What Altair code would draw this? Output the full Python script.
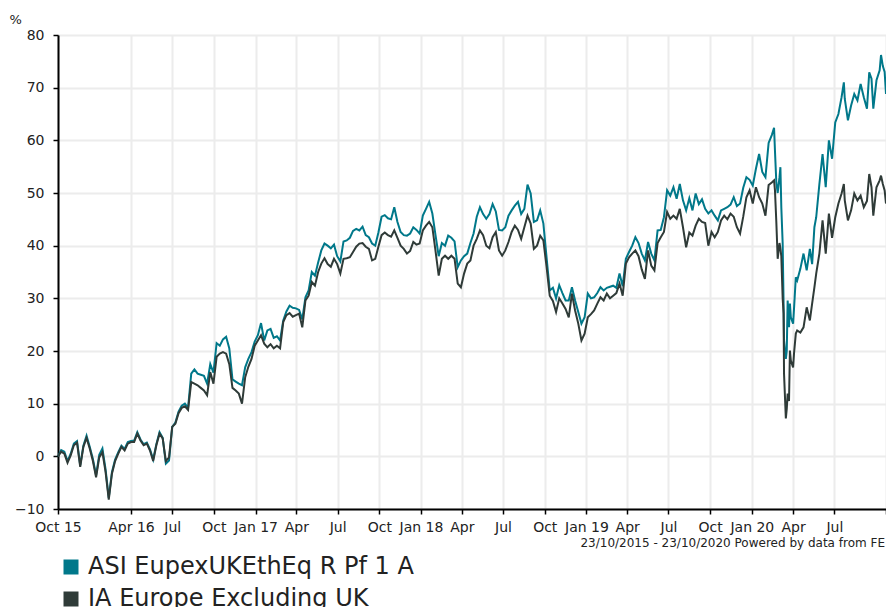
import altair as alt
import pandas as pd

SERIES = ["ASI EupexUKEthEq R Pf 1 A", "IA Europe Excluding UK"]
COLORS = ["#00788a", "#2f3b38"]
FOOTER = "23/10/2015 - 23/10/2020 Powered by data from FE"
FONT = "DejaVu Sans"

# weekly readings (Fridays) from 23/10/2015 to 14/02/2020, cumulative % growth
fund_weekly = [
    0, 1.2, 0.9, -0.9, 0.5, 2.4, 2.9, -1.7, 2.0, 3.9,
    1.8, -0.5, -3.6, 0.3, 1.5, -2.5, -7.9, -3.0, -0.6, 0.8,
    2.0, 1.4, 2.7, 2.9, 3.0, 4.6, 3.2, 2.3, 2.6, 1.3,
    -0.6, 2.3, 4.6, 3.5, -1.4, -0.8, 5.6, 6.4, 8.5, 9.6,
    10.0, 9.2, 15.7, 16.5, 15.7, 15.5, 15.3, 13.8, 17.5, 15.9,
    21.5, 21.0, 22.2, 22.7, 20.5, 14.6, 14.2, 13.8, 13.5, 16.9,
    18.5, 19.8, 21.8, 23.0, 25.3, 22.0, 23.9, 24.2, 22.5, 22.8,
    22.0, 25.8, 27.5, 28.6, 28.2, 28.1, 27.8, 26.0, 30.2, 31.5,
    35.0, 34.3, 36.8, 39.1, 40.4, 40.0, 39.5, 40.2, 38.0, 37.0,
    40.8, 41.0, 41.5, 42.8, 43.2, 42.9, 43.6, 42.0, 41.6, 40.4,
    40.0, 42.5, 45.5, 45.8, 45.2, 45.0, 47.3, 44.5, 42.6, 42.0,
    41.9, 42.3, 43.5, 43.0, 42.3, 45.7, 47.0, 48.3, 46.1, 42.0,
    38.0, 40.5, 40.0, 41.9, 41.5, 40.8, 35.9, 37.2, 38.0, 38.5,
    40.5, 42.3, 45.5, 47.3, 46.0, 45.1, 46.0, 47.9, 46.5, 43.0,
    42.9, 43.5, 45.7, 46.7, 47.6, 48.3, 46.0, 47.0, 51.6, 49.9,
    44.5, 44.8, 46.7, 44.2, 37.8, 31.5, 32.0, 30.0, 32.5, 31.0,
    29.6, 29.6, 32.1, 29.6, 27.4, 25.2, 26.4, 30.9, 30.0, 30.2,
    31.0, 32.1, 31.5, 32.0, 32.2, 32.4, 32.0, 34.7, 32.3, 37.5,
    38.8, 40.0, 41.6, 40.5, 38.5, 37.2, 40.7, 38.5, 37.2, 42.9,
    43.0, 45.4, 50.5, 49.5, 51.1, 48.9, 51.7, 48.6, 46.7, 49.0,
    46.7, 49.9, 47.9, 48.8, 47.0, 46.1, 46.7, 45.7, 44.8, 46.7,
    47.0, 47.3, 47.8, 49.2, 47.5, 48.0, 51.0, 53.0, 52.5, 51.4,
    54.6, 57.4, 54.0, 53.0, 59.5, 61.0,
]
sector_weekly = [
    0, 0.9, 0.5, -1.2, 0.2, 2.1, 2.6, -2.0, 1.8, 3.5,
    1.5, -0.9, -4.0, -0.2, 0.8, -3.0, -8.2, -3.3, -0.9, 0.5,
    1.8, 1.1, 2.4, 2.7, 2.7, 4.3, 3.0, 2.1, 2.4, 1.1,
    -0.9, 2.1, 4.3, 3.4, -0.9, -0.2, 5.6, 6.2, 8.2, 9.2,
    9.5, 8.8, 14.1, 13.8, 13.5, 13.0, 12.5, 11.6, 16.0, 13.8,
    18.9, 19.5, 19.8, 19.5, 17.5, 13.0, 12.5, 11.9, 10.0, 15.0,
    17.0, 18.5, 21.0, 22.0, 23.0, 21.4, 20.7, 21.3, 20.5, 21.0,
    20.5, 25.5, 26.8, 27.2, 26.5, 26.8, 27.1, 24.5, 29.6, 30.5,
    33.1, 32.4, 35.0, 36.6, 37.6, 36.5, 36.0, 37.5, 36.5, 34.7,
    37.5, 37.6, 37.8, 38.8, 39.8, 40.4, 40.5, 39.8, 39.4, 37.2,
    37.5, 39.8, 42.0, 42.5, 42.0, 41.7, 42.9, 41.5, 40.0, 39.4,
    38.5, 39.0, 40.7, 40.2, 40.4, 42.9, 43.8, 44.5, 43.5, 39.0,
    34.3, 37.5, 38.1, 37.5, 38.1, 37.5, 32.8, 32.1, 34.7, 36.6,
    37.2, 40.0, 41.3, 42.9, 42.0, 40.0, 39.5, 41.6, 42.6, 39.1,
    38.1, 39.1, 40.7, 42.6, 43.8, 43.0, 41.3, 43.5, 45.7, 44.2,
    39.4, 40.0, 41.9, 41.0, 36.0, 30.5, 29.5, 27.4, 30.0, 29.0,
    28.0, 26.4, 30.9, 27.7, 25.2, 22.0, 23.3, 26.4, 27.0, 27.7,
    29.0, 30.2, 29.6, 30.9, 30.0, 30.5, 31.0, 32.8, 30.5, 36.6,
    37.8, 38.5, 39.1, 38.0, 35.5, 33.7, 39.1, 36.2, 35.3, 40.5,
    41.6, 42.6, 46.4, 45.1, 45.7, 45.1, 47.0, 43.5, 39.7, 42.5,
    41.9, 43.8, 45.1, 44.5, 44.3, 40.0, 42.6, 41.6, 42.6, 44.8,
    45.7, 45.0, 46.1, 45.5, 43.5, 42.3, 45.5, 49.2, 50.5, 48.0,
    51.1, 49.2, 48.0, 45.7, 51.5, 52.0,
]

# denser readings through the 2020 sell-off and recovery
late_dates = [
    "2020-02-19", "2020-02-21", "2020-02-24", "2020-02-27", "2020-03-02",
    "2020-03-04", "2020-03-06", "2020-03-09", "2020-03-11", "2020-03-12",
    "2020-03-16", "2020-03-18", "2020-03-20", "2020-03-23", "2020-03-25",
    "2020-03-27", "2020-04-01", "2020-04-03", "2020-04-07", "2020-04-10",
    "2020-04-17", "2020-04-24", "2020-05-01", "2020-05-08", "2020-05-13",
    "2020-05-18", "2020-05-22", "2020-05-29", "2020-06-05", "2020-06-12",
    "2020-06-19", "2020-06-26", "2020-07-03", "2020-07-10", "2020-07-17",
    "2020-07-22", "2020-07-24", "2020-07-31", "2020-08-07", "2020-08-14",
    "2020-08-21", "2020-08-28", "2020-09-04", "2020-09-11", "2020-09-16",
    "2020-09-21", "2020-09-25", "2020-10-02", "2020-10-09", "2020-10-12",
    "2020-10-16", "2020-10-20", "2020-10-23",
]
fund_late = [
    62.4, 58.0, 52.0, 50.0, 53.0, 54.9, 47.3, 40.4, 29.0, 22.0,
    18.5, 20.0, 29.6, 24.5, 29.0, 26.4, 25.2, 28.0, 34.0, 33.4,
    35.6, 38.5, 35.3, 39.4, 36.5, 43.5, 45.4, 51.7, 57.4, 51.1,
    60.0, 56.5, 63.4, 65.0, 68.2, 71.0, 67.9, 63.8, 66.6, 68.8,
    67.6, 70.7, 68.2, 66.0, 72.9, 71.7, 66.0, 71.4, 73.3, 76.2,
    74.1, 73.0, 68.8,
]
sector_late = [
    52.4, 50.5, 44.5, 37.5, 40.5, 39.5, 38.0, 30.0, 27.1, 15.7,
    7.2, 9.0, 11.9, 10.5, 20.1, 18.2, 16.9, 19.5, 23.3, 23.9,
    23.5, 24.5, 28.3, 25.8, 29.0, 32.1, 34.7, 38.5, 44.8, 38.5,
    46.1, 41.5, 45.4, 48.0, 49.9, 51.7, 48.6, 44.8, 46.7, 49.9,
    48.6, 49.5, 47.3, 48.5, 53.6, 51.1, 45.7, 51.1, 52.4, 53.3,
    51.7, 50.5, 48.0,
]

weekly_dates = pd.date_range("2015-10-23", periods=len(fund_weekly), freq="7D")
dates = list(weekly_dates) + list(pd.to_datetime(late_dates))
fund = fund_weekly + fund_late
sector = sector_weekly + sector_late

df = pd.concat([
    pd.DataFrame({"date": dates, "value": fund, "series": SERIES[0]}),
    pd.DataFrame({"date": dates, "value": sector, "series": SERIES[1]}),
], ignore_index=True)

quarters = [(2016, 4), (2016, 7), (2016, 10), (2017, 1), (2017, 4), (2017, 7),
            (2017, 10), (2018, 1), (2018, 4), (2018, 7), (2018, 10), (2019, 1),
            (2019, 4), (2019, 7), (2019, 10), (2020, 1), (2020, 4), (2020, 7)]
tick_dates = ([alt.DateTime(year=2015, month=10, date=23)]
              + [alt.DateTime(year=y, month=m, date=1) for y, m in quarters]
              + [alt.DateTime(year=2020, month=10, date=23)])
y_ticks = list(range(-10, 81, 10))

label_expr = (
    "(year(datum.value) == 2020 && month(datum.value) == 9) ? '' : "
    "((month(datum.value) == 0 || year(datum.value) == 2015 || "
    "(year(datum.value) == 2016 && month(datum.value) == 3)) ? "
    "timeFormat(datum.value, '%b %y') : timeFormat(datum.value, '%b'))"
)

x_enc = alt.X(
    "date:T",
    scale=alt.Scale(domain=[alt.DateTime(year=2015, month=10, date=23),
                            alt.DateTime(year=2020, month=10, date=23)], nice=False),
    axis=alt.Axis(values=tick_dates, labelExpr=label_expr, title=None,
                  labelOverlap=False, labelFlush=False, tickSize=5,
                  labelPadding=6, grid=True),
)
y_enc = alt.Y(
    "value:Q",
    scale=alt.Scale(domain=[-10, 80], nice=False, zero=False),
    axis=alt.Axis(values=y_ticks, title="%", titleAngle=0, titleX=-49, titleY=-12,
                  titleAlign="left", titleBaseline="alphabetic", titleFontSize=13,
                  titleFontWeight="normal", titleFont=FONT, titleColor="#222",
                  tickSize=5, labelPadding=9, grid=True),
)

# stroked small squares with a wide stroke read as solid 15px squares
legend = alt.Legend(
    title=None, orient="none", legendX=1, legendY=520, direction="vertical",
    symbolType="square", symbolSize=49, symbolStrokeWidth=8,
    labelFontSize=24, labelFont=FONT, labelColor="#222", labelOffset=5,
    rowPadding=-17, padding=0, labelLimit=600,
)

lines = alt.Chart(df).mark_line(strokeWidth=2).encode(
    x=x_enc,
    y=y_enc,
    color=alt.Color("series:N", scale=alt.Scale(domain=SERIES, range=COLORS),
                    legend=legend),
)

footer = alt.Chart(pd.DataFrame({"t": [FOOTER]})).mark_text(
    align="right", baseline="alphabetic", fontSize=12, font=FONT, color="#222"
).encode(x=alt.value(827), y=alt.value(512), text="t:N")

chart = alt.layer(lines, footer).properties(
    width=828,
    height=474,
    autosize=alt.AutoSizeParams(type="none"),
    padding={"left": 50, "top": 27, "right": 0, "bottom": 100},
).configure_view(strokeWidth=0).configure_axis(
    domainColor="#000", domainWidth=2, tickColor="#000", tickWidth=1.5,
    gridColor="#ececec", gridWidth=2, labelFont=FONT, labelFontSize=14,
    labelColor="#222",
)

chart.save("out.html", embed_options={"renderer": "svg", "actions": False})
